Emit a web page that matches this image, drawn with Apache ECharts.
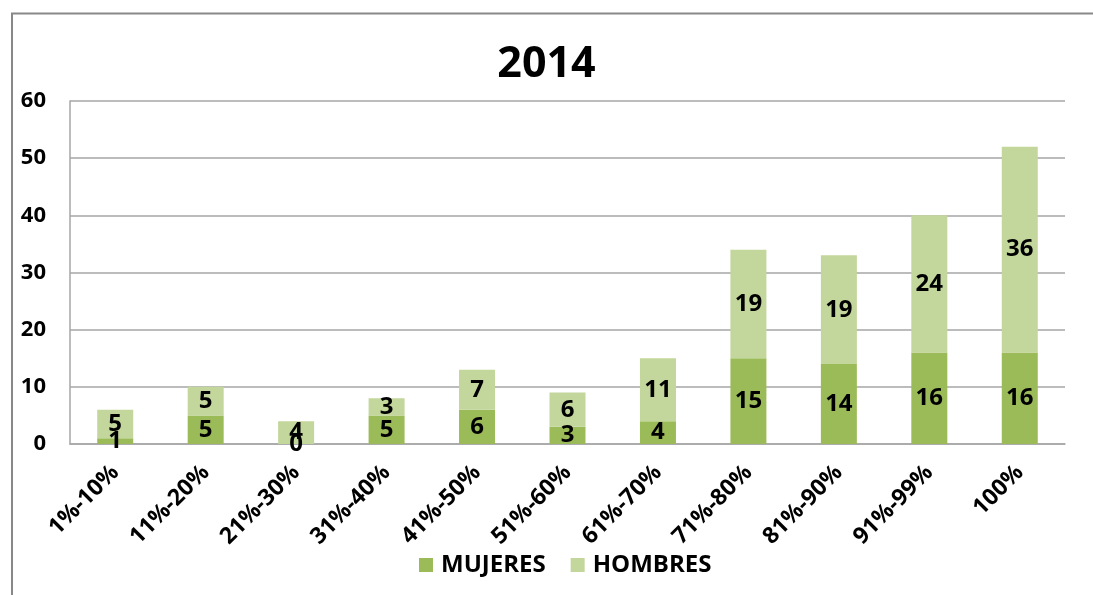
<!DOCTYPE html>
<html>
<head>
<meta charset="utf-8">
<script src="https://cdn.jsdelivr.net/npm/echarts@6/dist/echarts.min.js"></script>
<style>
  html, body { margin: 0; padding: 0; background: #fff; }
  #main { width: 1093px; height: 595px; }
</style>
</head>
<body>
<div id="main"></div>
<script>
// datos del grafico
var categorias = ['1%-10%', '11%-20%', '21%-30%', '31%-40%', '41%-50%', '51%-60%', '61%-70%', '71%-80%', '81%-90%', '91%-99%', '100%'];
var mujeres = [1, 5, 0, 5, 6, 3, 4, 15, 14, 16, 16];
var hombres = [5, 5, 4, 3, 7, 6, 11, 19, 19, 24, 36];

var fuente = '"Open Sans", "DejaVu Sans", sans-serif';

var myChart = echarts.init(document.getElementById('main'));

var etiqueta = {
    show: true,
    position: 'inside',
    color: '#000',
    fontWeight: 'bold',
    fontSize: 24,
    fontFamily: fuente
};

option = {
    backgroundColor: '#fff',
    animation: false,
    title: {
        text: '2014',
        left: 'center',
        top: 38,
        textStyle: { fontSize: 43, fontWeight: 'bold', color: '#000', fontFamily: fuente }
    },
    graphic: [
        // marco del grafico
        { type: 'polyline', shape: { points: [[12, 595], [12, 13.5], [1093, 13.5]] },
          style: { stroke: '#888', lineWidth: 2, fill: null } }
    ],
    legend: {
        bottom: 13,
        left: 414,
        itemWidth: 14,
        itemHeight: 14,
        itemGap: 25,
        icon: 'rect',
        textStyle: { fontSize: 24, fontWeight: 'bold', color: '#000', fontFamily: fuente, padding: [0, 0, 0, 3] },
        data: ['MUJERES', 'HOMBRES']
    },
    grid: { left: 70, right: 28, top: 101, bottom: 151, containLabel: false },
    xAxis: {
        type: 'category',
        data: categorias,
        axisLine: { lineStyle: { color: '#A6A6A6', width: 1.5 } },
        axisTick: { show: false },
        axisLabel: {
            rotate: 45,
            margin: 25,
            fontSize: 23,
            fontWeight: 'bold',
            color: '#000',
            fontFamily: fuente
        }
    },
    yAxis: {
        type: 'value',
        min: 0,
        max: 60,
        interval: 10,
        axisLine: { show: true, lineStyle: { color: '#A6A6A6', width: 1.5 } },
        axisTick: { show: false },
        splitLine: { lineStyle: { color: '#A6A6A6', width: 1.5 } },
        axisLabel: {
            margin: 24,
            fontSize: 22,
            fontWeight: 'bold',
            color: '#000',
            fontFamily: fuente
        }
    },
    series: [
        {
            name: 'MUJERES',
            type: 'bar',
            stack: 'total',
            barWidth: 36,
            data: mujeres,
            itemStyle: { color: '#9BBB59' },
            label: etiqueta
        },
        {
            name: 'HOMBRES',
            type: 'bar',
            stack: 'total',
            barWidth: 36,
            data: hombres,
            itemStyle: { color: '#C3D69B' },
            label: etiqueta
        }
    ]
};

myChart.setOption(option);
</script>
</body>
</html>
